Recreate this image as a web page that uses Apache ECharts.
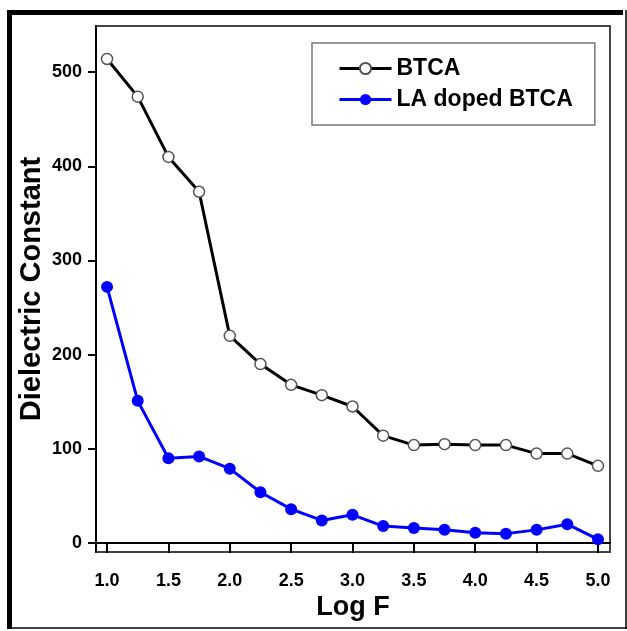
<!DOCTYPE html>
<html><head><meta charset="utf-8">
<script src="https://cdn.jsdelivr.net/npm/echarts@6/dist/echarts.min.js"></script>
<style>html,body{margin:0;padding:0;background:#fff;}#c{width:627px;height:631px;}</style>
</head><body><div id="c"></div>
<script>
const logF = [1.0,1.25,1.5,1.75,2.0,2.25,2.5,2.75,3.0,3.25,3.5,3.75,4.0,4.25,4.5,4.75,5.0];
const btca = [514,474,410,373,220,190,168,157,145,114,104,105,104,104,95,95,82];
const laDoped = [272,151,90,92,79,54,36,24,30,18,16,14,11,10,14,20,4];
const xTicks = [1.0,1.5,2.0,2.5,3.0,3.5,4.0,4.5,5.0];
const yTicks = [0,100,200,300,400,500];
const seriesNames = ['BTCA','LA doped BTCA'];

const chart = echarts.init(document.getElementById('c'), null, {renderer:'canvas'});
const font = 'Liberation Sans, Arial, sans-serif';
chart.setOption({
  animation:false,
  backgroundColor:'#fff',
  grid:{left:96, top:26, right:17, bottom:79, show:true, borderColor:'#444', borderWidth:2, backgroundColor:'transparent'},
  legend:{
    orient:'vertical', left:312, top:43,
    padding:[14,22,14,26],
    borderColor:'#777', borderWidth:1.5,
    itemWidth:52, itemHeight:14, itemGap:8,
    lineStyle:{width:3},
    textStyle:{fontFamily:font, fontWeight:'bold', fontSize:23, color:'#000'},
    data:seriesNames
  },
  xAxis:{
    type:'value', min:0.91, max:5.098,
    name:'Log F', nameLocation:'middle', nameGap:42, nameMoveOverlap:false,
    nameTextStyle:{fontFamily:font, fontWeight:'bold', fontSize:27, color:'#000'},
    axisLine:{show:true, lineStyle:{color:'#000', width:2}},
    axisTick:{show:true, length:10, customValues:xTicks, lineStyle:{color:'#000', width:2}},
    axisLabel:{customValues:xTicks, margin:20, formatter:v=>v.toFixed(1), fontFamily:font, fontWeight:'bold', fontSize:18, color:'#000'},
    splitLine:{show:false}
  },
  yAxis:{
    type:'value', min:-9.5, max:549,
    name:'Dielectric Constant', nameLocation:'middle', nameGap:50, nameMoveOverlap:false,
    nameTextStyle:{fontFamily:font, fontWeight:'bold', fontSize:29, color:'#000'},
    axisLine:{show:true, lineStyle:{color:'#000', width:2}},
    axisTick:{show:true, length:8, customValues:yTicks, lineStyle:{color:'#000', width:2}},
    axisLabel:{customValues:yTicks, margin:14, fontFamily:font, fontWeight:'bold', fontSize:18, color:'#000'},
    splitLine:{show:false}
  },
  series:[
    {name:seriesNames[0], type:'line', data:logF.map((x,i)=>[x,btca[i]]),
     symbol:'circle', symbolSize:11, showAllSymbol:true,
     lineStyle:{color:'#000', width:3},
     itemStyle:{color:'#fff', borderColor:'#555', borderWidth:1.5}},
    {name:seriesNames[1], type:'line', data:logF.map((x,i)=>[x,laDoped[i]]),
     symbol:'circle', symbolSize:12, showAllSymbol:true,
     lineStyle:{color:'#0000ff', width:3},
     itemStyle:{color:'#0000ff', borderColor:'#0000ff', borderWidth:0}}
  ],
  graphic:[
    {type:'rect', shape:{x:7, y:10, width:616, height:5}, style:{fill:'#000'}},
    {type:'rect', shape:{x:7, y:10, width:5, height:619}, style:{fill:'#000'}},
    {type:'line', shape:{x1:626, y1:10, x2:626, y2:629}, style:{stroke:'#000', lineWidth:1.5}},
    {type:'line', shape:{x1:7, y1:628, x2:627, y2:628}, style:{stroke:'#000', lineWidth:1.5}}
  ]
});
</script></body></html>
